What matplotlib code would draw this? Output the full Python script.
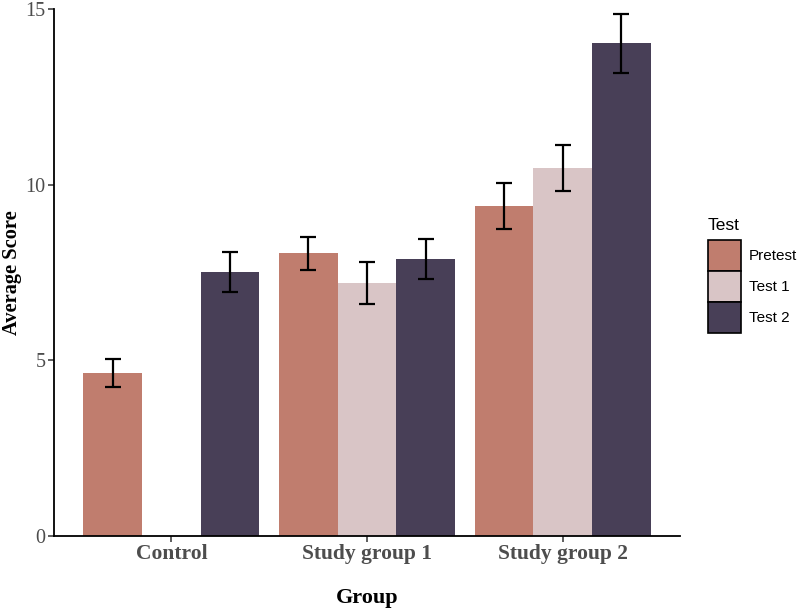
import matplotlib.pyplot as plt
import numpy as np
from matplotlib.patches import Patch

# данные
groups = ['Control', 'Study group 1', 'Study group 2']
tests = ['Pretest', 'Test 1', 'Test 2']
pretest = [4.64, 8.05, 9.40]
test1 = [np.nan, 7.20, 10.48]
test2 = [7.51, 7.88, 14.02]
pretest_err = [0.41, 0.47, 0.66]
test1_err = [np.nan, 0.60, 0.66]
test2_err = [0.57, 0.57, 0.84]

colors = ['#C07D6E', '#D9C5C6', '#483F57']

serif = ['Liberation Serif', 'DejaVu Serif']
sans = ['Liberation Sans', 'DejaVu Sans']

fig = plt.figure(figsize=(8, 6.11), dpi=100)
ax = fig.add_axes([0.0675, 0.1227, 0.7825, 0.8626])

x = np.arange(1, len(groups) + 1)
width = 0.3
series = [(pretest, pretest_err), (test1, test1_err), (test2, test2_err)]
for i, (vals, errs) in enumerate(series):
    pos = x + (i - 1) * width
    v = np.array(vals, dtype=float)
    e = np.array(errs, dtype=float)
    ok = ~np.isnan(v)
    ax.bar(pos[ok], v[ok], width=width, color=colors[i], linewidth=0)
    ax.errorbar(pos[ok], v[ok], yerr=e[ok], fmt='none', ecolor='black',
                elinewidth=1.6, capsize=6, capthick=1.6, zorder=3)

ax.set_xlim(0.4, 3.6)
ax.set_ylim(0, 15)
ax.set_xticks(x)
ax.set_xticklabels(groups, fontfamily=serif, fontweight='bold', fontsize=15.5, color='#4D4D4D')
ax.set_yticks([0, 5, 10, 15])
ax.set_yticklabels(['0', '5', '10', '15'], fontfamily=serif, fontsize=14.5, color='#4D4D4D')
ax.tick_params(axis='both', length=4, width=1.1, color='#333333', pad=2)

for s in ['top', 'right']:
    ax.spines[s].set_visible(False)
for s in ['left', 'bottom']:
    ax.spines[s].set_linewidth(1.3)
    ax.spines[s].set_color('black')

ax.set_xlabel('Group', fontfamily=serif, fontweight='bold', fontsize=16, labelpad=17)
ax.set_ylabel('Average Score', fontfamily=serif, fontweight='bold', fontsize=14.7, labelpad=2.5)

handles = [Patch(facecolor=c, edgecolor='black', linewidth=1.2) for c in colors]
leg = fig.legend(handles, tests, loc='center left', bbox_to_anchor=(0.8715, 0.549),
                 frameon=False, title='Test', handlelength=2.15, handleheight=2.75,
                 labelspacing=0.0, handletextpad=0.55, borderpad=0.2,
                 prop={'family': sans, 'size': 11},
                 title_fontproperties={'family': sans, 'size': 12.5}, alignment='left')
# немного воздуха между заголовком легенды и ключами
leg._legend_box.sep = 5

fig.savefig('out.png', dpi=100)
